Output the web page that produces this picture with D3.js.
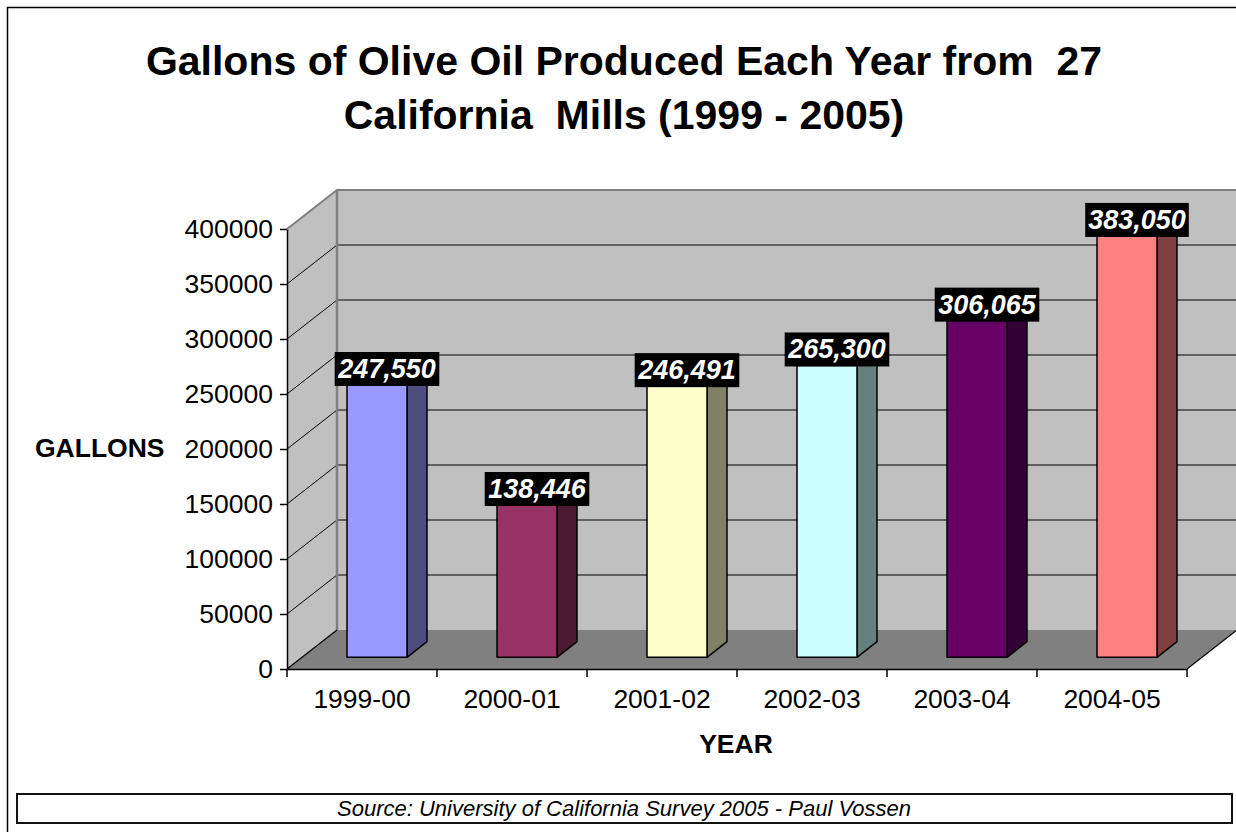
<!DOCTYPE html>
<html>
<head>
<meta charset="utf-8">
<script src="https://cdn.jsdelivr.net/npm/d3@7/dist/d3.min.js"></script>
<style>
  html, body { margin: 0; padding: 0; background: #fff; }
  svg { display: block; font-family: "Liberation Sans", Arial, sans-serif; }
  svg text { white-space: pre; }
</style>
</head>
<body>
<svg id="chart" width="1236" height="832"></svg>
<script>
const categories = ["1999-00", "2000-01", "2001-02", "2002-03", "2003-04", "2004-05"];
const gallons = [247550, 138446, 246491, 265300, 306065, 383050];
const frontColors = ["#9999FF", "#993366", "#FFFFCC", "#CCFFFF", "#660066", "#FF8080"];
const sideColors  = ["#4D4D80", "#4D1A33", "#808066", "#668080", "#330033", "#804040"];
const yTicks = [0, 50000, 100000, 150000, 200000, 250000, 300000, 350000, 400000];
const titleLines = ["Gallons of Olive Oil Produced Each Year from  27", "California  Mills (1999 - 2005)"];
const yTitle = "GALLONS";
const xTitle = "YEAR";
const sourceText = "Source: University of California Survey 2005 - Paul Vossen";

const svg = d3.select("#chart");
const W = 1236, H = 832;

// 3D depth offsets
const DX = 50, DY = 39;
const x = d3.scaleBand().domain(categories).range([287, 1187]).paddingInner(0).paddingOuter(0);
const y = d3.scaleLinear().domain([0, 400000]).range([669, 229]);
const yMax = 400000;

// outer frame
svg.append("rect").attr("x", 7.5).attr("y", 7.5).attr("width", W - 2).attr("height", H)
  .attr("fill", "#fff").attr("stroke", "#000").attr("stroke-width", 1.5);

// title
svg.append("g").selectAll("text").data(titleLines).join("text")
  .attr("x", 624).attr("y", (d, i) => 75 + i * 54)
  .attr("xml:space", "preserve")
  .attr("text-anchor", "middle").attr("font-size", 41).attr("font-weight", "bold")
  .text(d => d);

const x0 = x.range()[0], x1 = x.range()[1];
const y0 = y(0), yTop = y(yMax);

// back wall
svg.append("rect").attr("x", x0 + DX).attr("y", yTop - DY)
  .attr("width", x1 - x0).attr("height", y0 - yTop)
  .attr("fill", "#C0C0C0");
// side wall
svg.append("path")
  .attr("d", `M${x0},${y0}L${x0},${yTop}L${x0 + DX},${yTop - DY}L${x0 + DX},${y0 - DY}Z`)
  .attr("fill", "#C0C0C0");

// gridlines on back wall and side wall
const grid = svg.append("g");
grid.selectAll("line.back").data(yTicks.filter(v => v > 0 && v < yMax)).join("line")
  .attr("class", "back")
  .attr("x1", x0 + DX).attr("x2", x1 + DX)
  .attr("y1", d => y(d) - DY).attr("y2", d => y(d) - DY)
  .attr("stroke", "#000").attr("stroke-width", 1);
grid.selectAll("line.side").data(yTicks.filter(v => v > 0 && v < yMax)).join("line")
  .attr("class", "side")
  .attr("x1", x0).attr("x2", x0 + DX)
  .attr("y1", d => y(d)).attr("y2", d => y(d) - DY)
  .attr("stroke", "#000").attr("stroke-width", 1);

// wall edges (gray)
svg.append("path")
  .attr("d", `M${x0},${yTop}L${x0 + DX},${yTop - DY}L${x1 + DX},${yTop - DY}`)
  .attr("fill", "none").attr("stroke", "#808080").attr("stroke-width", 2);
svg.append("line").attr("x1", x0 + DX).attr("x2", x0 + DX)
  .attr("y1", yTop - DY).attr("y2", y0 - DY)
  .attr("stroke", "#808080").attr("stroke-width", 2.5);

// floor
svg.append("path")
  .attr("d", `M${x0},${y0}L${x1},${y0}L${x1 + DX},${y0 - DY}L${x0 + DX},${y0 - DY}Z`)
  .attr("fill", "#808080");
svg.append("path")
  .attr("d", `M${x0},${y0}L${x0 + DX},${y0 - DY}M${x1},${y0}L${x1 + DX},${y0 - DY}`)
  .attr("stroke", "#000").attr("stroke-width", 1.2).attr("fill", "none");

// bars
const barW = x.bandwidth() * 0.4;
const fz = 0.3, bz = 0.7;
const bars = svg.append("g");
categories.forEach((c, i) => {
  const v = gallons[i];
  const cx = x(c) + x.bandwidth() / 2;
  const fx = cx - barW / 2 + fz * DX;
  const fyb = y(0) - fz * DY;
  const fyt = y(v) - fz * DY;
  const ddx = (bz - fz) * DX, ddy = (bz - fz) * DY;
  const g = bars.append("g").attr("stroke", "#000").attr("stroke-width", 1.5).attr("stroke-linejoin", "round");
  // top
  g.append("path")
    .attr("d", `M${fx},${fyt}L${fx + barW},${fyt}L${fx + barW + ddx},${fyt - ddy}L${fx + ddx},${fyt - ddy}Z`)
    .attr("fill", frontColors[i]);
  // side
  g.append("path")
    .attr("d", `M${fx + barW},${fyb}L${fx + barW},${fyt}L${fx + barW + ddx},${fyt - ddy}L${fx + barW + ddx},${fyb - ddy}Z`)
    .attr("fill", sideColors[i]);
  // front
  g.append("rect").attr("x", fx).attr("y", fyt).attr("width", barW).attr("height", fyb - fyt)
    .attr("fill", frontColors[i]);
});

// axes
const yAxis = d3.axisLeft(y).tickValues(yTicks).tickFormat(d3.format("d"))
  .tickSize(7).tickPadding(7).tickSizeOuter(0);
const gy = svg.append("g").attr("transform", `translate(${x0},0)`).call(yAxis);
gy.selectAll("text").attr("font-size", 26.5).attr("font-family", "Liberation Sans, Arial, sans-serif").attr("fill", "#000");
gy.selectAll("line, path").attr("stroke", "#000").attr("stroke-width", 1.5);

const xAxis = d3.axisBottom(x).tickSize(0).tickPadding(20).tickSizeOuter(0);
const gx = svg.append("g").attr("transform", `translate(0,${y0})`).call(xAxis);
gx.selectAll("text").attr("font-size", 26.5).attr("font-family", "Liberation Sans, Arial, sans-serif").attr("fill", "#000");
gx.selectAll("path").attr("stroke", "#000").attr("stroke-width", 1.5);
const bounds = categories.map(c => x(c)).concat([x1]);
gx.selectAll("line.bt").data(bounds).join("line").attr("class", "bt")
  .attr("x1", d => d).attr("x2", d => d).attr("y1", 0).attr("y2", 8)
  .attr("stroke", "#000").attr("stroke-width", 1.5);

// data labels
const labels = svg.append("g");
const fmt = d3.format(",");
categories.forEach((c, i) => {
  const v = gallons[i];
  const cx = x(c) + x.bandwidth() / 2 + fz * DX + (bz - fz) * DX / 2;
  const bottom = y(v) - fz * DY + 1;
  const t = labels.append("text")
    .attr("x", cx).attr("y", bottom - 8)
    .attr("text-anchor", "middle").attr("font-size", 27)
    .attr("font-weight", "bold").attr("font-style", "italic")
    .attr("fill", "#fff").text(fmt(v));
  const bb = t.node().getBBox();
  labels.insert("rect", "text")
    .attr("x", cx - bb.width / 2 - 3).attr("y", bottom - 34)
    .attr("width", bb.width + 6).attr("height", 34).attr("fill", "#000");
});
labels.selectAll("text").raise();

// axis titles
svg.append("text").attr("x", 35).attr("y", 457).attr("font-size", 26.5)
  .attr("font-weight", "bold").text(yTitle);
svg.append("text").attr("x", 736).attr("y", 753).attr("text-anchor", "middle")
  .attr("font-size", 26.5).attr("font-weight", "bold").text(xTitle);

// source box
svg.append("rect").attr("x", 17).attr("y", 794).attr("width", 1215).attr("height", 29)
  .attr("fill", "#fff").attr("stroke", "#111").attr("stroke-width", 2);
svg.append("text").attr("x", 624).attr("y", 816).attr("text-anchor", "middle")
  .attr("font-size", 22).attr("font-style", "italic").text(sourceText);
</script>
</body>
</html>
